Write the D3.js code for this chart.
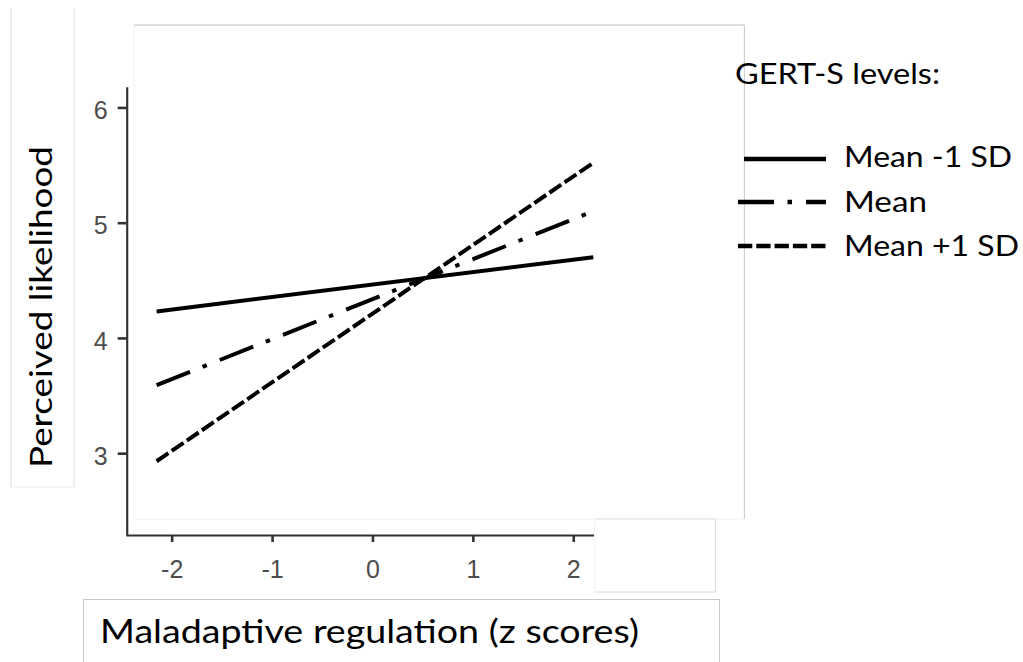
<!DOCTYPE html>
<html><head><meta charset="utf-8">
<script src="https://cdn.jsdelivr.net/npm/d3@7"></script>
<style>html,body{margin:0;padding:0;background:#fff;overflow:hidden}</style>
</head><body>
<svg id="chart" width="1023" height="662"></svg>
<script>
// ---- data ----
const zScores = [-2.15, 2.2];
const seriesNames = ["Mean -1 SD", "Mean", "Mean +1 SD"];
const meanMinus1SD = [4.23, 4.70];
const meanLevel = [3.59, 5.10];
const meanPlus1SD = [2.93, 5.52];
const xTicks = [-2, -1, 0, 1, 2];
const yTicks = [3, 4, 5, 6];
const legendTitle = "GERT-S levels:";
const xTitle = "Maladaptive regulation (z scores)";
const yTitle = "Perceived likelihood";

// ---- build ----
const series = [
  {name: seriesNames[0], values: meanMinus1SD},
  {name: seriesNames[1], values: meanLevel},
  {name: seriesNames[2], values: meanPlus1SD}
];
const dashStyles = {"Mean -1 SD": null, "Mean": "36,13.5,4.5,14", "Mean +1 SD": "14.3,4"};

const svg = d3.select("#chart");
const uiFont = "Lato, 'Open Sans', sans-serif";
const tickFont = "'Liberation Sans', Arial, sans-serif";

const x = d3.scaleLinear().domain([-2.455, 2.4]).range([126, 613.4]);
const y = d3.scaleLinear().domain([2.29, 6.18]).range([535, 86.7]);

// y-label box
svg.append("line").attr("x1",11).attr("x2",11).attr("y1",8).attr("y2",487).attr("stroke","#dcdcdc").attr("stroke-width",1);
svg.append("line").attr("x1",74).attr("x2",74).attr("y1",8).attr("y2",487).attr("stroke","#e2e2e2").attr("stroke-width",1);
svg.append("line").attr("x1",11).attr("x2",76).attr("y1",487).attr("y2",487).attr("stroke","#eeeeee").attr("stroke-width",1);

svg.append("text")
  .attr("transform","translate(52,468) rotate(-90)")
  .attr("font-family", uiFont).attr("font-size",31).attr("fill","#000")
  .attr("textLength",322).attr("lengthAdjust","spacingAndGlyphs")
  .text(yTitle);

// axes
const gx = svg.append("g").attr("transform","translate(0,535)")
  .call(d3.axisBottom(x).tickValues(xTicks).tickSize(7).tickSizeOuter(0).tickPadding(18).tickFormat(d => String(d)));
const gy = svg.append("g").attr("transform","translate(126.7,0)")
  .call(d3.axisLeft(y).tickValues(yTicks).tickSize(9).tickSizeOuter(0).tickPadding(10).tickFormat(d => String(d)));
[gx, gy].forEach(g => {
  g.select(".domain").attr("stroke","#333").attr("stroke-width",2.2);
  g.selectAll(".tick line").attr("stroke","#333").attr("stroke-width",2.6);
  g.selectAll(".tick text").attr("font-family",tickFont).attr("font-size",25).attr("fill","#4d4d4d");
});
gy.selectAll(".tick text").attr("dy","0.45em");

// big white box over panel
svg.append("rect").attr("x",134).attr("y",25).attr("width",610).attr("height",494)
  .attr("fill","#fff").attr("stroke","#f0f0f0").attr("stroke-width",1);
svg.append("line").attr("x1",134).attr("x2",744.5).attr("y1",25).attr("y2",25).attr("stroke","#c4c4c4").attr("stroke-width",1);
svg.append("line").attr("x1",744.5).attr("x2",744.5).attr("y1",25).attr("y2",519).attr("stroke","#cfcfcf").attr("stroke-width",1);

// data lines
const line = d3.line().x((d,i) => x(zScores[i])).y(d => y(d));
svg.append("g").selectAll("path").data(series).join("path")
  .attr("d", d => line(d.values))
  .attr("fill","none").attr("stroke","#000").attr("stroke-width",4)
  .attr("stroke-linecap","butt")
  .attr("stroke-dasharray", d => dashStyles[d.name]);

// small white box covering axis end
svg.append("rect").attr("x",594.5).attr("y",519).attr("width",121).attr("height",73)
  .attr("fill","#fff").attr("stroke","#dddddd").attr("stroke-width",1);
svg.append("line").attr("x1",594.5).attr("x2",594.5).attr("y1",519).attr("y2",592).attr("stroke","#f4f4f4").attr("stroke-width",1);

// x-label box
svg.append("rect").attr("x",83.5).attr("y",599.5).attr("width",636).attr("height",80)
  .attr("fill","#fff").attr("stroke","#c8c8c8").attr("stroke-width",1);
svg.append("text").attr("x",100).attr("y",643)
  .attr("font-family", uiFont).attr("font-size",32).attr("fill","#000")
  .attr("textLength",539).attr("lengthAdjust","spacingAndGlyphs")
  .text(xTitle);

// legend
svg.append("text").attr("x",735).attr("y",83.5)
  .attr("font-family", uiFont).attr("font-size",29).attr("fill","#000")
  .attr("textLength",205).attr("lengthAdjust","spacingAndGlyphs")
  .text(legendTitle);
const legendRows = [
  {name: seriesNames[0], y: 159, x1: 744, baseline: 167, w: 168},
  {name: seriesNames[1], y: 202, x1: 738, baseline: 212, w: 83},
  {name: seriesNames[2], y: 246, x1: 738, baseline: 255.5, w: 175}
];
const lg = svg.append("g");
lg.selectAll("line").data(legendRows).join("line")
  .attr("x1", d => d.x1).attr("x2", 826).attr("y1", d => d.y).attr("y2", d => d.y)
  .attr("stroke","#000").attr("stroke-width",4.3).attr("stroke-linecap","butt")
  .attr("stroke-dasharray", d => dashStyles[d.name]);
lg.selectAll("text").data(legendRows).join("text")
  .attr("x",844).attr("y", d => d.baseline)
  .attr("font-family", uiFont).attr("font-size",29).attr("fill","#000")
  .attr("textLength", d => d.w).attr("lengthAdjust","spacingAndGlyphs")
  .text(d => d.name);
</script>
</body></html>
